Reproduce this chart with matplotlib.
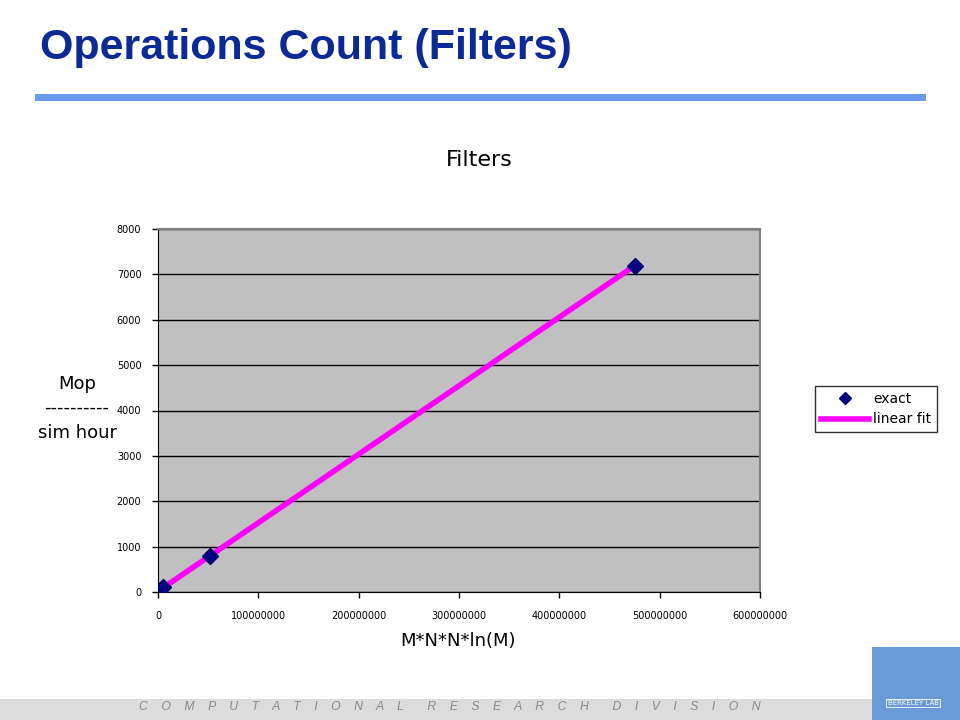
import numpy as np
import matplotlib.pyplot as plt
from matplotlib.patches import Rectangle
from matplotlib.lines import Line2D

# data
x_vals = [5.0e6, 52.0e6, 475.0e6]
y_vals = [100, 790, 7190]
x_ticks = [0, 100000000, 200000000, 300000000, 400000000, 500000000, 600000000]
y_ticks = [0, 1000, 2000, 3000, 4000, 5000, 6000, 7000, 8000]

W, H = 960, 720
fig = plt.figure(figsize=(9.6, 7.2), dpi=100)
fig.patch.set_facecolor('white')

def px(x, y):
    return x / W, 1 - y / H

# slide title
fig.text(*px(40, 48), 'Operations Count (Filters)', fontsize=31, fontweight='bold',
         color='#0b2a98', family=['Liberation Sans Narrow', 'Liberation Sans', 'DejaVu Sans'],
         va='center', ha='left')
fig.patches.append(Rectangle(px(35, 101), 891 / W, 7 / H, transform=fig.transFigure,
                             facecolor='#6a9af0', edgecolor='none'))

# footer band
fig.patches.append(Rectangle(px(0, 720), 872 / W, 21 / H, transform=fig.transFigure,
                             facecolor='#dcdcdc', edgecolor='none'))
footer = '       '.join(['    '.join(w) for w in ['COMPUTATIONAL', 'RESEARCH', 'DIVISION']])
fig.text(*px(450, 707), footer, fontsize=8.8, style='italic', color='#8a8a8a',
         family='Liberation Sans', ha='center', va='center')
fig.patches.append(Rectangle(px(872, 720), 88 / W, 73 / H, transform=fig.transFigure,
                             facecolor='#6a9ad8', edgecolor='none'))
fig.text(*px(913, 703), 'BERKELEY LAB', fontsize=5, color='white', ha='center', va='center',
         bbox=dict(facecolor='none', edgecolor='white', linewidth=0.6, pad=1))

# chart
ax = fig.add_axes([158 / W, (H - 592) / H, 602 / W, 363 / H])
ax.set_facecolor('#c0c0c0')
ax.set_xlim(0, 600000000)
ax.set_ylim(0, 8000)
ax.set_xticks(x_ticks)
ax.set_xticklabels([str(t) for t in x_ticks])
ax.set_yticks(y_ticks)
ax.set_yticklabels([str(t) for t in y_ticks])
ax.tick_params(direction='out', length=4, width=1, labelsize=7, colors='black', pad=8)
ax.tick_params(axis='x', pad=10)
ax.yaxis.grid(True, color='black', linewidth=1)
ax.set_axisbelow(True)
ax.spines['top'].set_color('#808080')
ax.spines['right'].set_color('#808080')
ax.spines['top'].set_linewidth(1.5)
ax.spines['right'].set_linewidth(1.5)

coef = np.polyfit(x_vals, y_vals, 1)
fx = np.array([min(x_vals), max(x_vals)])
ax.plot(fx, np.polyval(coef, fx), color='#ff00ff', linewidth=4, solid_capstyle='butt', zorder=3)
ax.plot(x_vals, y_vals, linestyle='none', marker='D', markersize=8, color='#000080',
        markeredgecolor='#000060', zorder=4)

fig.text(*px(479, 160), 'Filters', fontsize=16, ha='center', va='center')
fig.text(*px(458, 641), 'M*N*N*ln(M)', fontsize=13, ha='center', va='center')
fig.text(*px(77, 384), 'Mop', fontsize=13, ha='center', va='center')
fig.text(*px(77, 408), '----------', fontsize=13, ha='center', va='center')
fig.text(*px(77, 433), 'sim hour', fontsize=13, ha='center', va='center')

handles = [Line2D([], [], linestyle='none', marker='D', markersize=6, color='#000080'),
           Line2D([], [], color='#ff00ff', linewidth=4)]
leg = fig.legend(handles, ['exact', 'linear fit'], loc='center', bbox_to_anchor=px(876, 409),
                 fontsize=10, frameon=True, fancybox=False, edgecolor='black',
                 handlelength=3.5, handletextpad=0.3, borderpad=0.4, labelspacing=0.5)
leg.get_frame().set_linewidth(1)

fig.savefig('out.png', dpi=100)
